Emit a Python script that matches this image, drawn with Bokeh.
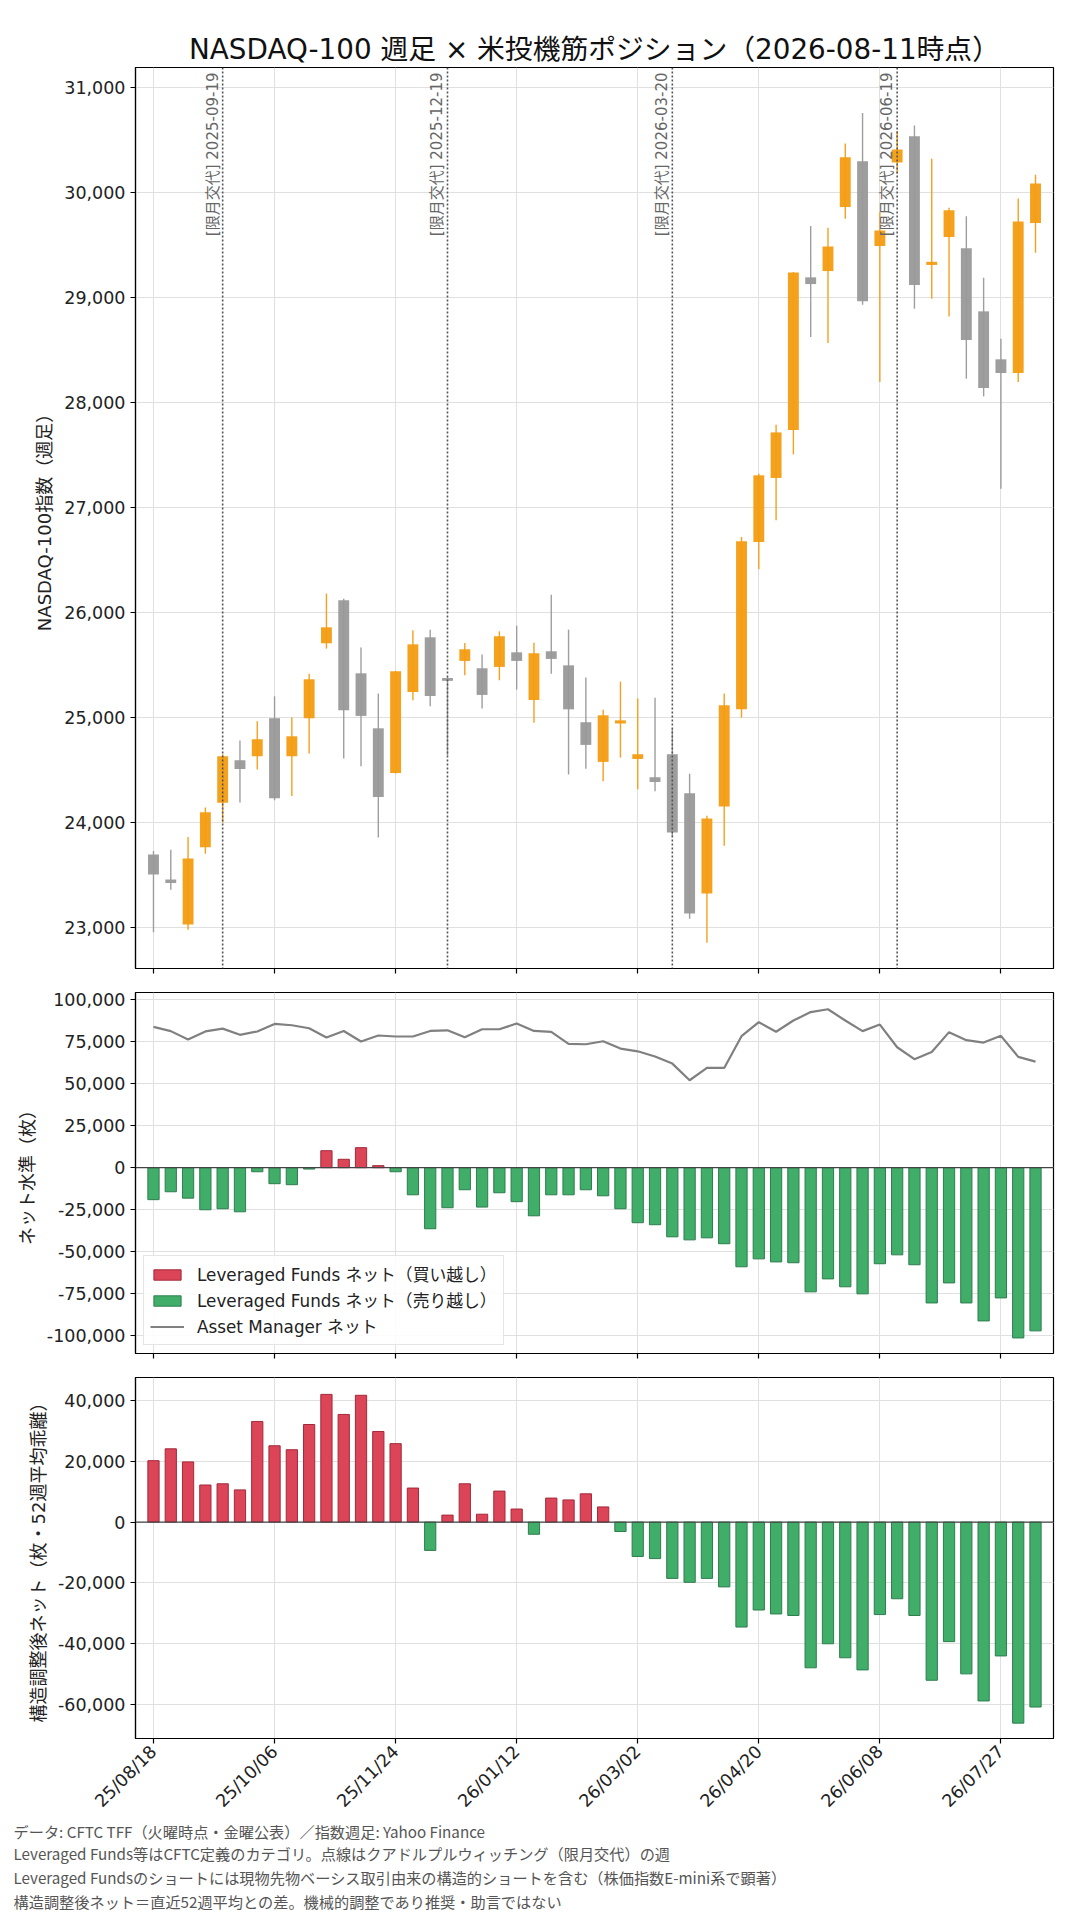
import numpy as np
import pandas as pd
from math import pi
from bokeh.plotting import figure
from bokeh.models import Range1d, FixedTicker, NumeralTickFormatter, Span, Label, ColumnDataSource, Title
from bokeh.layouts import column
from bokeh.embed import file_html
from bokeh.resources import INLINE

# ---------------- data ----------------
start_week = "2025-08-18"
n_weeks = 52

ndx_open = [23697, 23459, 23029, 23764, 24188, 24594, 24632, 24994, 24632, 24994,
            25708, 26117, 25422, 24898, 24473, 25244, 25765, 25377, 25540, 25470,
            25483, 25622, 25168, 25632, 25498, 24956, 24578, 24944, 24606, 24432,
            24651, 24280, 23325, 24154, 25079, 26673, 27283, 27740, 29194, 29254,
            29863, 30300, 29492, 30289, 30537, 29312, 29578, 29470, 28870, 28413,
            28283, 29711]
ndx_high = [23729, 23742, 23863, 24143, 24650, 24781, 24965, 25203, 25000, 25419,
            26181, 26133, 25667, 25229, 25445, 25832, 25838, 25385, 25711, 25600,
            25822, 25876, 25714, 26171, 25838, 25381, 25076, 25343, 25181, 25190,
            24895, 24465, 24065, 25229, 26721, 27324, 27790, 29245, 29683, 29667,
            30470, 30760, 29813, 30587, 30641, 30324, 29857, 29775, 29190, 28610,
            29946, 30171]
ndx_low = [22955, 23360, 22978, 23704, 24000, 24191, 24505, 24213, 24254, 24657,
           25657, 24610, 24537, 23857, 24467, 25165, 25108, 24641, 25403, 25086,
           25356, 25267, 24952, 25419, 24457, 24514, 24394, 24619, 24317, 24298,
           23870, 23085, 22855, 23780, 25000, 26413, 26879, 27508, 28625, 28568,
           29752, 28933, 28197, 30180, 28895, 28990, 28822, 28229, 28060, 27181,
           28197, 29429]
ndx_close = [23506, 23424, 23659, 24099, 24632, 24511, 24794, 24232, 24822, 25365,
             25860, 25070, 25016, 24244, 25441, 25698, 25206, 25350, 25651, 25216,
             25775, 25540, 25613, 25559, 25079, 24740, 25022, 24974, 24651, 24387,
             23905, 23135, 24040, 25117, 26679, 27308, 27717, 29241, 29130, 29489,
             30337, 28966, 29641, 30413, 29121, 29342, 29832, 28597, 28140, 28283,
             29727, 30089]

lev_funds_net = [-19000, -14300, -18100, -25000, -24400, -26200, -2400, -9500, -10100, -800,
                 10100, 5000, 11900, 1200, -2400, -16100, -36300, -23800, -13100, -23400,
                 -14900, -20200, -28600, -16100, -16100, -13100, -16700, -24400, -32700, -33900,
                 -41100, -42900, -41700, -45200, -58900, -54200, -56000, -56500, -73800, -66100,
                 -70800, -75000, -57100, -51800, -57700, -80400, -68500, -80400, -91100, -77400,
                 -101200, -97000]
asset_mgr_net = [83700, 81200, 76200, 81000, 82700, 79000, 81000, 85500, 84700, 82900,
                 77400, 81300, 75000, 78600, 78000, 78000, 81300, 81700, 77600, 82300,
                 82300, 85700, 81300, 80800, 73600, 73400, 75200, 70800, 69200, 66100,
                 61900, 52000, 59300, 59300, 78200, 86500, 80800, 87500, 92500, 94200,
                 87500, 81200, 85100, 71600, 64500, 68800, 80600, 75800, 74400, 78400,
                 65900, 63100]
lev_funds_adj = [20200, 24100, 19800, 12200, 12600, 10600, 33100, 25100, 23800, 32100,
                 42000, 35400, 41700, 29800, 25800, 11200, -9300, 2300, 12600, 2600,
                 10200, 4300, -4000, 7900, 7300, 9300, 5000, -3100, -11300, -12000,
                 -18500, -19800, -18500, -21300, -34500, -28900, -30200, -30700, -47900, -40000,
                 -44600, -48600, -30400, -25200, -30700, -52000, -39300, -49900, -58800, -44000,
                 -66100, -60800]

quad_witching_dates = ["2025-09-19", "2025-12-19", "2026-03-20", "2026-06-19"]
x_tick_labels = ["25/08/18", "25/10/06", "25/11/24", "26/01/12",
                 "26/03/02", "26/04/20", "26/06/08", "26/07/27"]

title_text = "NASDAQ-100 週足 × 米投機筋ポジション（2026-08-11時点）"
ylabel_1 = "NASDAQ-100指数（週足）"
ylabel_2 = "ネット水準（枚）"
ylabel_3 = "構造調整後ネット（枚・52週平均乖離）"
legend_long = "Leveraged Funds ネット（買い越し）"
legend_short = "Leveraged Funds ネット（売り越し）"
legend_am = "Asset Manager ネット"
qw_prefix = "[限月交代]"
footnotes = [
    "データ: CFTC TFF（火曜時点・金曜公表）／指数週足: Yahoo Finance",
    "Leveraged Funds等はCFTC定義のカテゴリ。点線はクアドルプルウィッチング（限月交代）の週",
    "Leveraged Fundsのショートには現物先物ベーシス取引由来の構造的ショートを含む（株価指数E-mini系で顕著）",
    "構造調整後ネット＝直近52週平均との差。機械的調整であり推奨・助言ではない",
]

# ---------------- styling ----------------
FONT = "DejaVu Sans, Noto Sans CJK JP"
NOTE_FONT = "Noto Sans CJK JP"
UP = "#F39C12"
DOWN = "#999999"
RED = "#DC4458"
RED_EDGE = "#A3293A"
GREEN = "#40AD69"
GREEN_EDGE = "#2E7D4F"
GRID = "#e0e0e0"
TICK_FS = "17.5px"
LABEL_FS = "18px"

weeks = pd.date_range(start_week, periods=n_weeks, freq="7D")
xs = np.arange(n_weeks)
week_fmt = [d.strftime("%y/%m/%d") for d in weeks]
tick_pos = [week_fmt.index(t) for t in x_tick_labels]
overrides = {p: t for p, t in zip(tick_pos, x_tick_labels)}

x_range = Range1d(-1.04, n_weeks - 1 + 1.04)
FRAME_W = 918
LEFT = 135


def make_panel(frame_h, y_rng, yticks, top, bottom, ylabel, show_x_labels):
    p = figure(frame_width=FRAME_W, frame_height=frame_h, x_range=x_range,
               y_range=Range1d(*y_rng), output_backend="svg", toolbar_location=None,
               min_border_left=LEFT, min_border_right=20,
               min_border_top=top, min_border_bottom=bottom)
    p.outline_line_color = "black"
    p.outline_line_width = 1.2
    p.outline_line_alpha = 1.0
    p.xaxis.ticker = FixedTicker(ticks=tick_pos)
    p.xgrid.ticker = FixedTicker(ticks=tick_pos)
    p.yaxis.ticker = FixedTicker(ticks=yticks)
    p.yaxis.formatter = NumeralTickFormatter(format="0,0")
    p.xaxis.major_label_overrides = overrides
    p.grid.grid_line_color = GRID
    p.grid.grid_line_width = 1
    for ax in p.axis:
        ax.axis_line_color = "black"
        ax.axis_line_width = 1.2
        ax.major_tick_line_color = "black"
        ax.major_tick_line_width = 1.2
        ax.major_tick_out = 5
        ax.major_tick_in = 0
        ax.minor_tick_line_color = None
        ax.major_label_text_font = FONT
        ax.major_label_text_font_size = TICK_FS
        ax.major_label_text_color = "#222222"
        ax.major_label_standoff = 5
    p.yaxis.axis_label = ylabel
    p.yaxis.axis_label_text_font = FONT
    p.yaxis.axis_label_text_font_size = LABEL_FS
    p.yaxis.axis_label_text_font_style = "normal"
    p.yaxis.axis_label_text_color = "#222222"
    p.yaxis.axis_label_standoff = 6
    if show_x_labels:
        p.xaxis.major_label_orientation = pi / 4
    else:
        p.xaxis.major_label_text_font_size = "0px"
        p.xaxis.major_label_text_color = None
        p.xaxis.major_label_standoff = 0
    return p


# ---------------- panel 1: candlesticks ----------------
Y1 = (22610, 31193)
p1 = make_panel(901, Y1, list(range(23000, 31001, 1000)), 67, 12, ylabel_1, False)
p1.title.text = title_text
p1.title.align = "center"
p1.title.text_font = FONT
p1.title.text_font_size = "27.8px"
p1.title.text_font_style = "normal"
p1.title.text_color = "#111111"
p1.title.standoff = 4

o = np.array(ndx_open); h = np.array(ndx_high); l = np.array(ndx_low); c = np.array(ndx_close)
candle = ColumnDataSource(dict(
    x=xs, h=h, l=l,
    top=np.maximum(o, c), bottom=np.minimum(o, c),
    color=[UP if ci >= oi else DOWN for oi, ci in zip(o, c)],
))
p1.segment(x0="x", y0="h", x1="x", y1="l", line_color="color", line_width=1.4,
           line_alpha=0.95, source=candle)
p1.vbar(x="x", width=0.63, top="top", bottom="bottom", fill_color="color",
        fill_alpha=0.95, line_color=None, source=candle)

for d in quad_witching_dates:
    qi = (pd.Timestamp(d) - weeks[0]).days // 7
    p1.add_layout(Span(location=qi, dimension="height", line_color="#555555",
                       line_dash="2 2", line_width=1.6))
    p1.add_layout(Label(x=qi, y=Y1[1], text=f"{qw_prefix} {d}", angle=pi / 2,
                        text_align="right", text_baseline="bottom",
                        x_offset=-1, y_offset=-5, text_font=FONT,
                        text_font_size="15px", text_color="#666666"))

# ---------------- panel 2: net levels ----------------
Y2 = (-110460, 104160)
p2 = make_panel(361, Y2, list(range(-100000, 100001, 25000)), 12, 12, ylabel_2, False)
lf = np.array(lev_funds_net)
pos = lf > 0
p2.vbar(x=xs[pos], top=lf[pos], bottom=0, width=0.65, fill_color=RED, line_color=RED_EDGE,
        line_width=1, legend_label=legend_long)
p2.vbar(x=xs[~pos], top=lf[~pos], bottom=0, width=0.65, fill_color=GREEN, line_color=GREEN_EDGE,
        line_width=1, legend_label=legend_short)
p2.line(xs, asset_mgr_net, line_color="#808080", line_width=2.2, legend_label=legend_am)
p2.add_layout(Span(location=0, dimension="width", line_color="#444444", line_width=1.2))
lg = p2.legend[0]
lg.location = "bottom_left"
lg.margin = 8
lg.padding = 6
lg.spacing = 2
lg.glyph_width = 34
lg.glyph_height = 13
lg.label_height = 20
lg.label_standoff = 13
lg.label_text_font = FONT
lg.label_text_font_size = "16.8px"
lg.label_text_color = "#222222"
lg.border_line_color = "#cccccc"
lg.border_line_width = 1
lg.background_fill_alpha = 0.85

# ---------------- panel 3: structural adjusted ----------------
Y3 = (-71150, 47550)
p3 = make_panel(361, Y3, list(range(-60000, 40001, 20000)), 12, 10, ylabel_3, True)
adj = np.array(lev_funds_adj)
apos = adj > 0
p3.vbar(x=xs[apos], top=adj[apos], bottom=0, width=0.65, fill_color=RED, line_color=RED_EDGE,
        line_width=1)
p3.vbar(x=xs[~apos], top=adj[~apos], bottom=0, width=0.65, fill_color=GREEN, line_color=GREEN_EDGE,
        line_width=1)
p3.add_layout(Span(location=0, dimension="width", line_color="#444444", line_width=1.2))

for i, t in enumerate(footnotes):
    p3.add_layout(Title(text=t, align="left", offset=13 - LEFT,
                        standoff=-4 if i == 0 else 0, vertical_align="top",
                        text_font=NOTE_FONT, text_font_size="15.2px", text_font_style="normal",
                        text_color="#555555"), "below")

layout = column(p1, p2, p3, spacing=0)
open("out.html", "w").write(file_html(layout, INLINE))
